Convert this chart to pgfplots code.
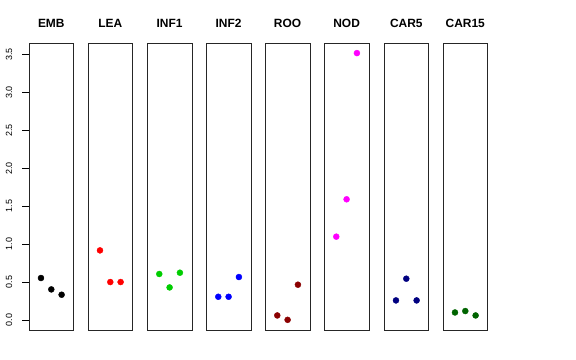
\documentclass[border=0pt]{standalone}
\usepackage{pgfplots}
\pgfplotsset{compat=1.18}
\usepackage{fontspec}
\setmainfont{Liberation Sans}
\definecolor{rgreen}{RGB}{0,205,0}
\definecolor{rdarkred}{RGB}{139,0,0}
\definecolor{rnavy}{RGB}{0,0,128}
\definecolor{rdarkgreen}{RGB}{0,100,0}
\definecolor{rmagenta}{RGB}{255,0,255}
\definecolor{rblue}{RGB}{0,0,255}
\definecolor{rred}{RGB}{255,0,0}
\pgfplotsset{
  panel/.style={
    scale only axis, width=44.6bp, height=287.7bp,
    anchor=south west,
    xmin=-0.16, xmax=4.16, ymin=-0.14, ymax=3.65,
    xtick=\empty, ytick=\empty,
    axis line style={line width=0.7pt, black!85},
    title style={at={(0.5,1)}, anchor=base, yshift=9.3bp, font=\fontsize{12}{14}\selectfont\bfseries},
    clip=false,
  },
  pts/.style={only marks, mark=*, mark size=3bp, mark options={draw=#1, fill=#1}, color=#1},
}
\begin{document}
\begin{tikzpicture}
\useasboundingbox (0bp,0bp) rectangle (576bp,360bp);
\begin{axis}[panel, at={(29bp,29.3bp)}, title={EMB},
  ytick={0,0.5,1,1.5,2,2.5,3,3.5},
  yticklabels={0.0,0.5,1.0,1.5,2.0,2.5,3.0,3.5},
  ytick pos=left, yticklabel pos=left,
  ytick align=outside, major tick length=0pt,
  yticklabel style={rotate=90, anchor=base, font=\fontsize{9}{10}\selectfont, yshift=17bp}]
\addplot[pts=black] coordinates {(1,0.554) (2,0.404) (3,0.334)};
\draw[line width=0.8pt, black] (axis cs:-0.16,0) -- ++(-7bp,0pt);
\draw[line width=0.8pt, black] (axis cs:-0.16,0.5) -- ++(-7bp,0pt);
\draw[line width=0.8pt, black] (axis cs:-0.16,1) -- ++(-7bp,0pt);
\draw[line width=0.8pt, black] (axis cs:-0.16,1.5) -- ++(-7bp,0pt);
\draw[line width=0.8pt, black] (axis cs:-0.16,2) -- ++(-7bp,0pt);
\draw[line width=0.8pt, black] (axis cs:-0.16,2.5) -- ++(-7bp,0pt);
\draw[line width=0.8pt, black] (axis cs:-0.16,3) -- ++(-7bp,0pt);
\draw[line width=0.8pt, black] (axis cs:-0.16,3.5) -- ++(-7bp,0pt);
\end{axis}
\begin{axis}[panel, at={(88bp,29.3bp)}, title={LEA}]
\addplot[pts=rred] coordinates {(1,0.918) (2,0.501) (3,0.501)};
\end{axis}
\begin{axis}[panel, at={(147.3bp,29.3bp)}, title={INF1}]
\addplot[pts=rgreen] coordinates {(1,0.607) (2,0.430) (3,0.624)};
\end{axis}
\begin{axis}[panel, at={(206.3bp,29.3bp)}, title={INF2}]
\addplot[pts=rblue] coordinates {(1,0.307) (2,0.307) (3,0.567)};
\end{axis}
\begin{axis}[panel, at={(265.3bp,29.3bp)}, title={ROO}]
\addplot[pts=rdarkred] coordinates {(1,0.061) (2,0.003) (3,0.466)};
\end{axis}
\begin{axis}[panel, at={(324.3bp,29.3bp)}, title={NOD}]
\addplot[pts=rmagenta] coordinates {(1,1.099) (2,1.591) (3,3.517)};
\end{axis}
\begin{axis}[panel, at={(384bp,29.3bp)}, title={CAR5}]
\addplot[pts=rnavy] coordinates {(1,0.259) (2,0.545) (3,0.259)};
\end{axis}
\begin{axis}[panel, at={(443bp,29.3bp)}, title={CAR15}]
\addplot[pts=rdarkgreen] coordinates {(1,0.100) (2,0.119) (3,0.061)};
\end{axis}
\end{tikzpicture}
\end{document}
